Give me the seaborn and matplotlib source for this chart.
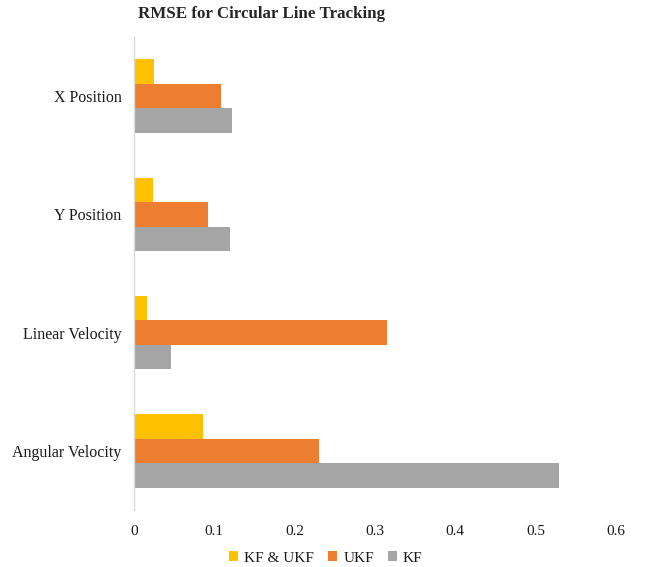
import matplotlib
matplotlib.use("Agg")
import matplotlib.pyplot as plt
import seaborn as sns
import pandas as pd

categories = ["X Position", "Y Position", "Linear Velocity", "Angular Velocity"]
series_names = ["KF & UKF", "UKF", "KF"]
kf_ukf = [0.0245, 0.024, 0.0166, 0.086]
ukf = [0.108, 0.0925, 0.315, 0.2307]
kf = [0.122, 0.1195, 0.0456, 0.529]
x_ticks = [0, 0.1, 0.2, 0.3, 0.4, 0.5, 0.6]
palette = ["#FFC000", "#ED7D31", "#A5A5A5"]

rows = []
for name, vals in zip(series_names, [kf_ukf, ukf, kf]):
    for cat, v in zip(categories, vals):
        rows.append({"Metric": cat, "Method": name, "RMSE": v})
df = pd.DataFrame(rows)

sns.set_theme(style="white")
plt.rcParams["font.family"] = ["Liberation Serif", "DejaVu Serif"]

fig = plt.figure(figsize=(6.45, 5.67), dpi=100)
ax = fig.add_axes([0.2078, 0.1005, 0.7472, 0.8342])

sns.barplot(data=df, y="Metric", x="RMSE", hue="Method", order=categories,
            hue_order=series_names, palette=palette, orient="h",
            width=0.62, linewidth=0, saturation=1, ax=ax)

ax.set_xlim(0, 0.6)
ax.set_xticks(x_ticks)
ax.set_xticklabels([f"{t:g}" for t in x_ticks])
ax.set_xlabel("")
ax.set_ylabel("")
for side in ["top", "right", "bottom"]:
    ax.spines[side].set_visible(False)
ax.spines["left"].set_color("#D9D9D9")
ax.spines["left"].set_linewidth(1.0)
ax.tick_params(axis="x", length=0, pad=11, labelsize=11, colors="#1a1a1a")
ax.tick_params(axis="y", length=0, pad=9, labelsize=11.5, colors="#1a1a1a")
ax.grid(False)

leg = ax.legend(loc="center", bbox_to_anchor=(0.505, 0.016),
                bbox_transform=fig.transFigure, ncol=3, frameon=False,
                fontsize=11, handlelength=0.6, handleheight=0.6,
                handletextpad=0.4, columnspacing=0.9)
for t in leg.get_texts():
    t.set_color("#1a1a1a")

fig.text(0.405, 1 - 14 / 567, "RMSE for Circular Line Tracking",
         ha="center", va="center", fontsize=12.2, fontweight="bold")

fig.savefig("out.png", dpi=100)
